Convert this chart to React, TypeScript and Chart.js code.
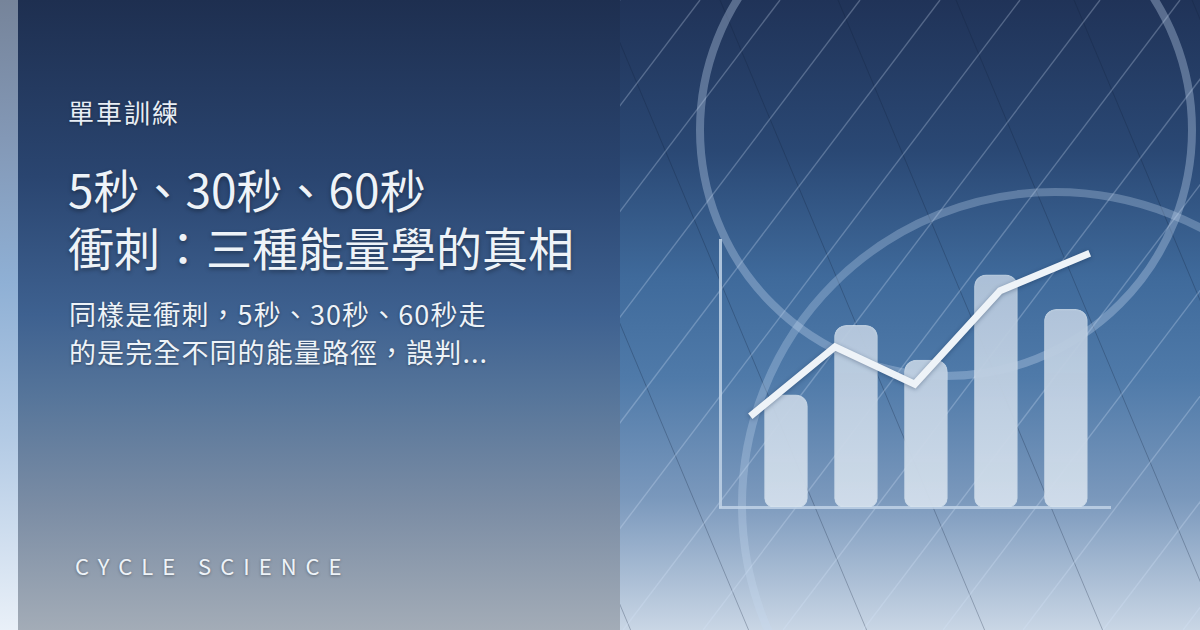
import React, { useEffect, useRef } from "react";
import { Chart, registerables } from "chart.js";

Chart.register(...registerables);

// ---- data ----
const barPositions = [1, 2, 3, 4, 5];
const barValues = [42, 68, 55, 87, 74];
const linePositions = [0.49, 1.7, 2.84, 4.06, 5.34];
const lineValues = [34, 60, 46, 81, 95];

const kicker = "單車訓練";
const titleLines = ["5秒、30秒、60秒", "衝刺：三種能量學的真相"];
const descLines = ["同樣是衝刺，5秒、30秒、60秒走", "的是完全不同的能量路徑，誤判..."];
const footer = "CYCLE SCIENCE";

const CJK = '"Noto Sans CJK TC", "Noto Sans CJK SC", "Noto Sans", sans-serif';

function ChartBox() {
  const ref = useRef<HTMLCanvasElement | null>(null);
  useEffect(() => {
    if (!ref.current) return;
    const lineShadow = {
      id: "lineShadow",
      beforeDatasetDraw(chart: any, args: any) {
        if (args.index === 1) {
          const c = chart.ctx;
          c.save();
          c.shadowColor = "rgba(10,30,60,0.35)";
          c.shadowBlur = 4;
          c.shadowOffsetY = 1;
        }
      },
      afterDatasetDraw(chart: any, args: any) {
        if (args.index === 1) chart.ctx.restore();
      },
    };
    const axisBase = {
      display: true,
      grid: { display: false, drawTicks: false },
      ticks: { display: false },
      border: { display: true, color: "rgba(192,210,230,0.85)", width: 3 },
    };
    const chart = new Chart(ref.current, {
      type: "bar",
      data: {
        datasets: [
          {
            type: "bar",
            data: barPositions.map((x, i) => ({ x, y: barValues[i] })),
            barThickness: 43,
            backgroundColor: (ctx: any) => {
              const area = ctx.chart.chartArea;
              if (!area) return "rgba(196,211,227,0.95)";
              const g = ctx.chart.ctx.createLinearGradient(0, area.top, 0, area.bottom);
              g.addColorStop(0, "rgba(172,192,215,0.95)");
              g.addColorStop(1, "rgba(210,222,235,0.96)");
              return g;
            },
            borderColor: "rgba(222,232,242,0.75)",
            borderWidth: 1,
            borderSkipped: false,
            borderRadius: { topLeft: 12, topRight: 12, bottomLeft: 9, bottomRight: 9 },
            order: 2,
          } as any,
          {
            type: "line",
            data: linePositions.map((x, i) => ({ x, y: lineValues[i] })),
            borderColor: "#eef3f8",
            borderWidth: 7,
            pointRadius: 0,
            tension: 0,
            fill: false,
            order: 1,
          } as any,
        ],
      },
      options: {
        animation: false,
        responsive: true,
        maintainAspectRatio: false,
        layout: { padding: { left: 20, right: 10, top: 20, bottom: 13 } },
        plugins: { legend: { display: false }, tooltip: { enabled: false } },
        scales: {
          x: { ...axisBase, type: "linear", offset: false, min: 0.057, max: 5.63 } as any,
          y: { ...axisBase, min: 0, max: 100 } as any,
        },
      },
      plugins: [lineShadow],
    });
    return () => chart.destroy();
  }, []);
  return (
    <div style={{ position: "absolute", left: 700, top: 220, width: 420, height: 300 }}>
      <canvas ref={ref} />
    </div>
  );
}

function Decor() {
  const light: React.ReactNode[] = [];
  for (let k = -1; k <= 13; k++) {
    const x0 = 700 + 80 * k - 620;
    light.push(
      <line key={"l" + k} x1={x0} y1={0} x2={x0 - 0.757 * 630} y2={630}
        stroke="rgba(215,230,250,0.28)" strokeWidth={1.4} />
    );
  }
  const dark: React.ReactNode[] = [];
  for (let k = -1; k <= 7; k++) {
    const x0 = 484 + 118 * k - 620;
    dark.push(
      <line key={"d" + k} x1={x0} y1={0} x2={x0 + 0.42 * 630} y2={630}
        stroke="rgba(18,34,60,0.35)" strokeWidth={0.8} />
    );
  }
  return (
    <svg width={580} height={630} style={{ position: "absolute", left: 620, top: 0 }}>
      {dark}
      {light}
      <circle cx={946 - 620} cy={130} r={246} fill="none" stroke="rgba(190,210,236,0.36)" strokeWidth={8} />
      <circle cx={1055 - 620} cy={505} r={313} fill="none" stroke="rgba(200,218,242,0.3)" strokeWidth={8} />
    </svg>
  );
}

export default function App() {
  const white = "#eef3f8";
  const shadow = "0 1px 3px rgba(0,0,0,0.35)";
  const lineBox = (top: number, h: number): React.CSSProperties => ({
    position: "absolute", left: 0, top, height: h, lineHeight: h + "px", whiteSpace: "nowrap",
  });
  return (
    <div style={{ position: "fixed", left: 0, top: 0, width: 1200, height: 630, overflow: "hidden", fontFamily: CJK }}>
      <div style={{ position: "absolute", left: 0, top: 0, width: 18, height: 630,
        background: "linear-gradient(180deg, #76849a 0%, #8398b6 22%, #8fb0d5 45%, #b4cbe5 70%, #e9f0f8 100%)" }} />
      <div style={{ position: "absolute", left: 18, top: 0, width: 602, height: 630,
        background: "linear-gradient(180deg, #1e2f50 0%, #2a4570 28%, #3e6190 50%, #56759a 63%, #7a8ca4 80%, #a3acb7 100%)" }} />
      <div style={{ position: "absolute", left: 620, top: 0, width: 580, height: 630,
        background: "linear-gradient(180deg, #203358 0%, #2a4874 24%, #3f6a9b 44%, #4f7aa9 60%, #7a98bc 79%, #c9d6e5 100%)" }} />
      <Decor />
      <ChartBox />
      <div style={{ position: "absolute", left: 68, top: 96, fontSize: 26, lineHeight: "31px", letterSpacing: 2, color: "#e8eef5", textShadow: shadow, whiteSpace: "nowrap" }}>
        {kicker}
      </div>
      <div style={{ position: "absolute", left: 68, top: 160, width: 540, height: 115, fontSize: 46, color: white, textShadow: "0 2px 4px rgba(0,0,0,0.35)" }}>
        {titleLines.map((t, i) => <div key={i} style={lineBox(i * 57.5, 57.5)}>{t}</div>)}
      </div>
      <div style={{ position: "absolute", left: 69, top: 295, width: 540, height: 75, fontSize: 27, letterSpacing: 1.1, color: white, textShadow: shadow }}>
        {descLines.map((t, i) => <div key={i} style={lineBox(i * 37.5, 37.5)}>{t}</div>)}
      </div>
      <div style={{ position: "absolute", left: 75, top: 552, fontSize: 22, lineHeight: "26px", letterSpacing: 9, color: white, textShadow: shadow, whiteSpace: "nowrap" }}>
        {footer}
      </div>
    </div>
  );
}
